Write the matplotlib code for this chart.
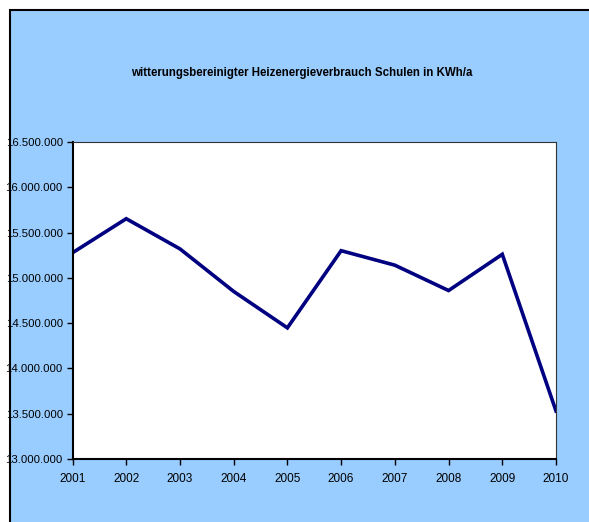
import matplotlib
matplotlib.use("Agg")
import matplotlib.pyplot as plt
from matplotlib.patches import Rectangle
from matplotlib.ticker import FuncFormatter
from matplotlib import font_manager

years = [2001, 2002, 2003, 2004, 2005, 2006, 2007, 2008, 2009, 2010]
values = [15277000, 15653000, 15320000, 14850000, 14448000, 15300000, 15140000, 14860000, 15260000, 13530000]
yticks = [13000000, 13500000, 14000000, 14500000, 15000000, 15500000, 16000000, 16500000]
title = "witterungsbereinigter Heizenergieverbrauch Schulen in KWh/a"

names = {f.name for f in font_manager.fontManager.ttflist}
fam = ["Liberation Sans Narrow"] if "Liberation Sans Narrow" in names else []
fam += ["Liberation Sans", "DejaVu Sans"]
plt.rcParams['font.family'] = fam

W, H = 589, 522
fig = plt.figure(figsize=(W / 100, H / 100), dpi=100, facecolor="white")
bg = Rectangle((9.5 / W, -0.1), 1.2, 1.1 - 9.5 / H, transform=fig.transFigure,
               facecolor="#99CCFF", edgecolor="black", linewidth=1.5, zorder=-10)
fig.patches.append(bg)

left, right, top, bottom = 72.5, 556, 142, 459
ax = fig.add_axes([left / W, 1 - bottom / H, (right - left) / W, (bottom - top) / H])
ax.set_zorder(5)
ax.set_facecolor("white")
ax.plot(years, values, color="#000080", linewidth=2.6, solid_joinstyle="miter")
ax.set_xlim(years[0], years[-1])
ax.set_ylim(yticks[0], yticks[-1])
ax.set_xticks(years)
ax.set_xticklabels([str(y) for y in years])
ax.set_yticks(yticks)
ax.yaxis.set_major_formatter(FuncFormatter(lambda v, p: f"{int(v):,}".replace(",", ".")))
for s in ["left", "bottom"]:
    ax.spines[s].set_linewidth(1.5)
    ax.spines[s].set_color("black")
for s in ["top", "right"]:
    ax.spines[s].set_linewidth(0.8)
    ax.spines[s].set_color("#333333")
ax.tick_params(axis="both", direction="out", length=4, width=1, colors="black")
ax.tick_params(axis="x", pad=6, labelsize=8.5)
ax.tick_params(axis="y", pad=3, labelsize=8.2)

fig.text(302 / W, 1 - 73 / H, title, ha="center", va="center", fontsize=8.3, fontweight="bold")

fig.savefig("out.png", dpi=100)
